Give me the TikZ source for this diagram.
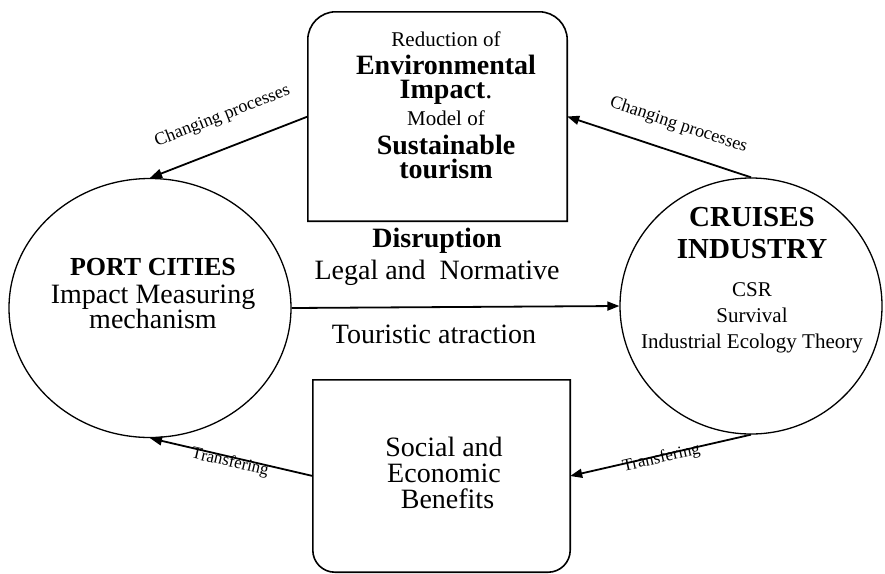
\documentclass[tikz,border=0pt]{standalone}
\usepackage{fontspec}
\setmainfont{Liberation Serif}
\usetikzlibrary{shapes.geometric}
\usetikzlibrary{arrows.meta}
\colorlet{line colour}{black}
\newcommand{\diagbody}{\fontsize{28}{26}\selectfont}
\newcommand{\diagsmall}{\fontsize{21}{26}\selectfont}
\newcommand{\diaglabel}{\fontsize{18}{20}\selectfont}
\tikzset{
    % Solid triangle heads, as in the original
    >={Triangle[length=12pt,width=9pt]},
%
    % Outlines
    shape line/.style={draw=line colour, line width=1.6pt},
    oval/.style={draw=line colour, line width=1.3pt, ellipse, inner sep=0pt},
    frame/.style={rectangle, inner sep=0pt},
    % Connectors
    flow/.style={color=line colour, line width=1.8pt, ->},
%
    % Centred text everywhere
    every node/.style={align=center},
}

\begin{document}
\begin{tikzpicture}[
    x=1pt, y=-1pt,
    words/.style={inner sep=0pt, font=\diagbody},
    flow label/.style={sloped, inner sep=1pt, font=\diaglabel},
]
\useasboundingbox (0,0) rectangle (885,573);

% the two actors
\node [oval, minimum width=282pt, minimum height=259pt] (port) at (150,308) {};
\node [oval, minimum width=262pt, minimum height=256pt] (cruise) at (751,306) {};

% the two boxes, their outlines are drawn below
\node [frame, minimum width=259pt, minimum height=209pt] (envbox) at (437.5,116.5) {};
\node [frame, minimum width=257pt, minimum height=192pt] (socbox) at (441.5,476) {};

\draw [shape line] (envbox.west) [rounded corners=28pt] -- (envbox.north west)
    -- (envbox.north east) -- (envbox.east) [sharp corners]
    -- (envbox.south east) -- (envbox.south west) -- cycle;
\draw [shape line] (socbox.west) [rounded corners=22pt] -- (socbox.south west)
    -- (socbox.south east) -- (socbox.east) [sharp corners]
    -- (socbox.north east) -- (socbox.north west) -- cycle;

% texts
\node [words] (envtext) at (446,105) {{\diagsmall Reduction of}\\[2pt]
    \textbf{Environmental}\\[-2pt] \textbf{Impact}.\\[1pt]
    {\diagsmall Model of}\\[3pt] \textbf{Sustainable}\\[-2pt] \textbf{tourism}};
\node [words] (soctext) at (444,472.5) {Social and\\ Economic\\ \ Benefits};
\node [words] (porttext) at (153,294)
    {\textbf{\fontsize{26}{26}\selectfont PORT CITIES}\\[2pt]
    Impact Measuring\\[-1pt] mechanism};
\node [words, font=\diagsmall] (cruisetext) at (752,279.7)
    {\textbf{\fontsize{29}{26}\selectfont CRUISES}\\[6pt]
    \textbf{\fontsize{29}{26}\selectfont INDUSTRY}\\[12pt]
    CSR\\ Survival\\ Industrial Ecology Theory};
\node [words] (midtext) at (437,256.8)
    {\textbf{Disruption}\\[6pt] Legal and\ \ Normative};
\node [words] (tourtext) at (434,334.5) {Touristic atraction};

% connectors
\draw [flow] (envbox.west) -- (port.north)
    node [flow label, above=21pt, pos=0.47] {Changing processes};
\draw [flow] (cruise.north) -- (envbox.east)
    node [flow label, above=16.5pt, pos=0.44] {Changing processes};
\draw [flow] (port.east) -- (cruise.west);
\draw [flow] (cruise.south) -- (socbox.east)
    node [flow label, font=\fontsize{17}{20}\selectfont, below=-6.5pt, pos=0.5] {Transfering};
\draw [flow] (socbox.west) -- (port.south)
    node [flow label, font=\fontsize{17}{20}\selectfont, below=-4pt, pos=0.5] {Transfering};

\end{tikzpicture}
\end{document}
